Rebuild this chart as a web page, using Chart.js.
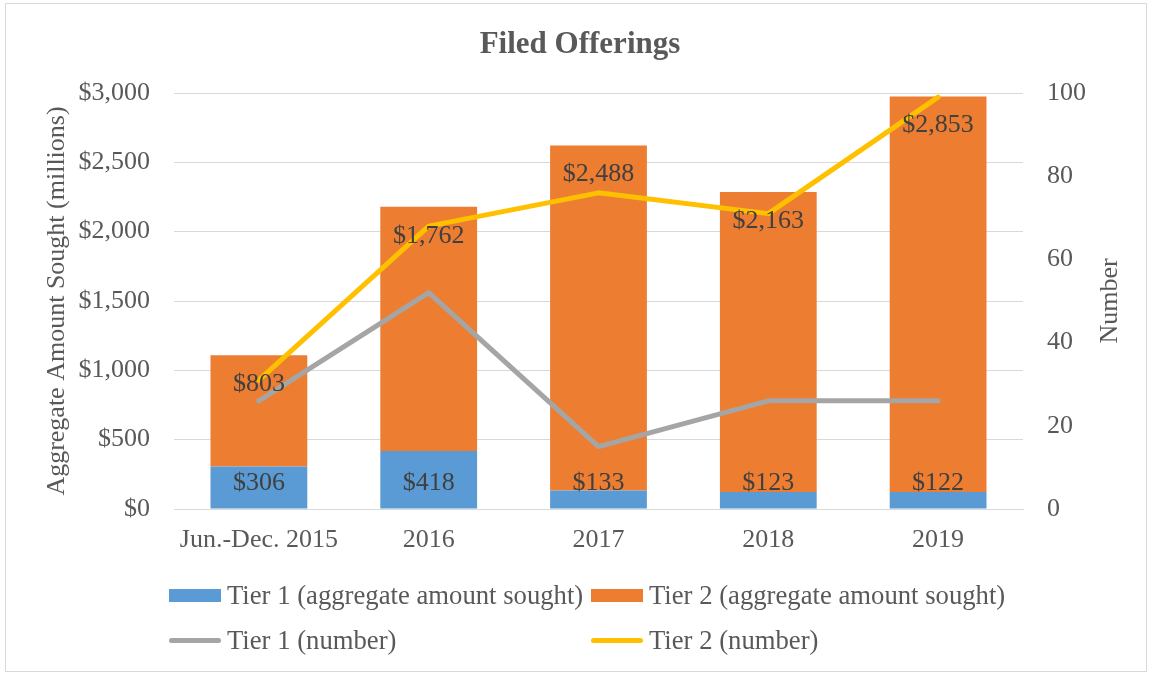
<!DOCTYPE html>
<html>
<head>
<meta charset="utf-8">
<script src="https://cdn.jsdelivr.net/npm/chart.js@4.4.1/dist/chart.umd.min.js"></script>
<style>
  html, body { margin: 0; padding: 0; background: #ffffff; }
  #wrap { position: relative; width: 1152px; height: 675px; overflow: hidden; font-family: "Liberation Serif", "DejaVu Serif", serif; }
  #frame { position: absolute; left: 5px; top: 3px; width: 1142px; height: 669px; border: 1px solid #d9d9d9; box-sizing: border-box; }
  #chart { position: absolute; left: 0; top: 0; }
  #title { position: absolute; left: 0; width: 1160px; top: 24px; text-align: center; font-weight: bold; font-size: 31px; line-height: 38px; color: #595959; }
  .lg { position: absolute; height: 30px; display: flex; align-items: center; font-size: 26.7px; color: #595959; white-space: nowrap; }
  .lg .sw { width: 52px; margin-right: 6px; flex: none; }
</style>
</head>
<body>
<div id="wrap">
  <div id="frame"></div>
  <canvas id="chart" width="1152" height="675"></canvas>
  <div id="title">Filed Offerings</div>
  <div id="legend"></div>
</div>
<script>
// ---- data ----
const categories = ["Jun.-Dec. 2015", "2016", "2017", "2018", "2019"];
const tier1Amount = [306, 418, 133, 123, 122];
const tier2Amount = [803, 1762, 2488, 2163, 2853];
const tier1Number = [26, 52, 15, 26, 26];
const tier2Number = [31, 68, 76, 71, 99];
const seriesLabels = [
  "Tier 1 (aggregate amount sought)",
  "Tier 2 (aggregate amount sought)",
  "Tier 1 (number)",
  "Tier 2 (number)"
];
const amountTicks = [0, 500, 1000, 1500, 2000, 2500, 3000];
const numberTicks = [0, 20, 40, 60, 80, 100];

const colors = { t1Bar: "#5B9BD5", t2Bar: "#ED7D31", t1Line: "#A5A5A5", t2Line: "#FFC000" };
const FONT = "'Liberation Serif', 'DejaVu Serif', serif";
const fmtMoney = v => "$" + Number(v).toLocaleString("en-US");

// Data labels plugin
const barLabels = {
  id: "barLabels",
  afterDatasetsDraw(chart) {
    const ctx = chart.ctx;
    ctx.save();
    ctx.font = "26px " + FONT;
    ctx.fillStyle = "#404040";
    ctx.textAlign = "center";
    ctx.textBaseline = "middle";
    chart.data.datasets.forEach((ds, i) => {
      if (ds.type !== "bar") return;
      const meta = chart.getDatasetMeta(i);
      meta.data.forEach((el, j) => {
        const v = ds.data[j];
        let y;
        if (ds.labelPos === "base") y = el.base - 25;
        else y = el.y + 29;
        ctx.fillText(fmtMoney(v), el.x, y);
      });
    });
    ctx.restore();
  }
};

// Right axis title (reads bottom to top)
const rightTitle = {
  id: "rightTitle",
  afterDraw(chart) {
    const s = chart.scales.y1;
    const ctx = chart.ctx;
    ctx.save();
    ctx.translate(s.right - 42, (chart.chartArea.top + chart.chartArea.bottom) / 2);
    ctx.rotate(-Math.PI / 2);
    ctx.font = "26px " + FONT;
    ctx.fillStyle = "#595959";
    ctx.textAlign = "center";
    ctx.textBaseline = "middle";
    ctx.fillText("Number", 0, 0);
    ctx.restore();
  }
};

const chart = new Chart(document.getElementById("chart"), {
  data: {
    labels: categories,
    datasets: [
      { type: "bar", label: seriesLabels[0], data: tier1Amount, backgroundColor: colors.t1Bar, yAxisID: "y", order: 2, labelPos: "base",
        barPercentage: 0.57, categoryPercentage: 1.0 },
      { type: "bar", label: seriesLabels[1], data: tier2Amount, backgroundColor: colors.t2Bar, yAxisID: "y", order: 2, labelPos: "end",
        barPercentage: 0.57, categoryPercentage: 1.0 },
      { type: "line", label: seriesLabels[2], data: tier1Number, borderColor: colors.t1Line, backgroundColor: colors.t1Line, yAxisID: "y1", order: 1,
        borderWidth: 5, pointRadius: 0, tension: 0, borderCapStyle: "round", borderJoinStyle: "round", fill: false },
      { type: "line", label: seriesLabels[3], data: tier2Number, borderColor: colors.t2Line, backgroundColor: colors.t2Line, yAxisID: "y1", order: 0,
        borderWidth: 5, pointRadius: 0, tension: 0, borderCapStyle: "round", borderJoinStyle: "round", fill: false }
    ]
  },
  options: {
    responsive: false,
    animation: false,
    devicePixelRatio: 1,
    layout: { padding: { left: 0, right: 0, top: 93, bottom: 116 } },
    plugins: { legend: { display: false }, title: { display: false }, tooltip: { enabled: false } },
    scales: {
      x: {
        stacked: true,
        grid: { display: false, drawTicks: false },
        border: { display: true, color: "#d9d9d9", width: 1 },
        ticks: { font: { family: FONT, size: 26 }, color: "#595959", padding: 16, maxRotation: 0, autoSkip: false },
        afterFit(s) { s.height = 50; }
      },
      y: {
        position: "left",
        stacked: true,
        min: amountTicks[0], max: amountTicks[amountTicks.length - 1],
        afterBuildTicks(s) { s.ticks = amountTicks.map(v => ({ value: v })); },
        grid: { color: "#d9d9d9", lineWidth: 1, drawTicks: false },
        border: { display: false },
        ticks: { font: { family: FONT, size: 26 }, color: "#595959", padding: 24, callback: v => fmtMoney(v) },
        title: { display: true, text: "Aggregate Amount Sought (millions)", font: { family: FONT, size: 26 }, color: "#595959", padding: { top: 42, bottom: 0 } },
        afterFit(s) { s.width = 174; }
      },
      y1: {
        position: "right",
        min: numberTicks[0], max: numberTicks[numberTicks.length - 1],
        afterBuildTicks(s) { s.ticks = numberTicks.map(v => ({ value: v })); },
        grid: { display: false, drawTicks: false },
        border: { display: false },
        ticks: { font: { family: FONT, size: 26 }, color: "#595959", padding: 24 },
        afterFit(s) { s.width = 129; }
      }
    }
  },
  plugins: [barLabels, rightTitle]
});

// HTML legend built from the datasets
const legendEl = document.getElementById("legend");
const legendPos = [
  { left: 169, top: 580 }, { left: 591, top: 580 },
  { left: 169, top: 625 }, { left: 591, top: 625 }
];
chart.data.datasets.forEach((ds, i) => {
  const item = document.createElement("div");
  item.className = "lg";
  item.style.left = legendPos[i].left + "px";
  item.style.top = legendPos[i].top + "px";
  const sw = document.createElement("span");
  sw.className = "sw";
  if (ds.type === "bar") {
    sw.style.height = "13px";
    sw.style.background = ds.backgroundColor;
  } else {
    sw.style.height = "5px";
    sw.style.borderRadius = "3px";
    sw.style.background = ds.borderColor;
  }
  item.appendChild(sw);
  const t = document.createElement("span");
  t.textContent = ds.label;
  item.appendChild(t);
  legendEl.appendChild(item);
});
</script>
</body>
</html>
